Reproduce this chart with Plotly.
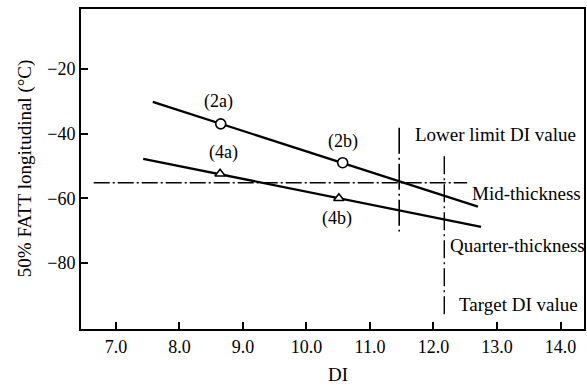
import plotly.graph_objects as go

# --- data ---
line2_di = [7.58, 12.70]
line2_fatt = [-30.2, -62.6]
pts2_di = [8.65, 10.57]
pts2_fatt = [-37.0, -49.0]

line4_di = [7.43, 12.75]
line4_fatt = [-47.8, -68.8]
pts4_di = [8.64, 10.51]
pts4_fatt = [-52.4, -60.0]

ref_fatt = -55.2
ref_di_span = [6.65, 12.53]
lower_limit_di = 11.46
lower_limit_span = [-38.2, -70.3]
target_di = 12.17
target_span = [-47.0, -96.5]

x_ticks = [7.0, 8.0, 9.0, 10.0, 11.0, 12.0, 13.0, 14.0]
y_ticks = [-20, -40, -60, -80]

point_labels = ["(2a)", "(2b)", "(4a)", "(4b)"]
point_label_di = [8.62, 10.57, 8.70, 10.48]
point_label_fatt = [-30.2, -42.5, -46.0, -66.3]

side_labels = ["Lower limit DI value", "Mid-thickness", "Quarter-thickness", "Target DI value"]
side_label_di = [11.68, 12.57, 12.23, 12.37]
side_label_fatt = [-40.4, -58.6, -74.6, -92.8]

FONT = "Liberation Serif"
fig = go.Figure()

fig.add_trace(go.Scatter(x=ref_di_span, y=[ref_fatt, ref_fatt], mode="lines",
                         line=dict(color="black", width=1.4, dash="16px,3px,2px,3px"),
                         showlegend=False, hoverinfo="skip"))
fig.add_trace(go.Scatter(x=[lower_limit_di, lower_limit_di], y=lower_limit_span, mode="lines",
                         line=dict(color="black", width=1.6, dash="26px,4px,2px,4px"),
                         showlegend=False, hoverinfo="skip"))
fig.add_trace(go.Scatter(x=[target_di, target_di], y=target_span, mode="lines",
                         line=dict(color="black", width=1.4, dash="18px,4px,2px,4px"),
                         showlegend=False, hoverinfo="skip"))

fig.add_trace(go.Scatter(x=line2_di, y=line2_fatt, mode="lines",
                         line=dict(color="black", width=2.3), showlegend=False))
fig.add_trace(go.Scatter(x=line4_di, y=line4_fatt, mode="lines",
                         line=dict(color="black", width=2.3), showlegend=False))
fig.add_trace(go.Scatter(x=pts2_di, y=pts2_fatt, mode="markers",
                         marker=dict(symbol="circle", size=10, color="white",
                                     line=dict(color="black", width=1.6)), showlegend=False))
fig.add_trace(go.Scatter(x=pts4_di, y=pts4_fatt, mode="markers",
                         marker=dict(symbol="triangle-up", size=9, color="white",
                                     line=dict(color="black", width=1.6)), showlegend=False))

lf = dict(family=FONT, size=18, color="black")
for t, x, y in zip(point_labels, point_label_di, point_label_fatt):
    fig.add_annotation(x=x, y=y, text=t, showarrow=False, xanchor="center",
                       yanchor="middle", font=lf)
sf = dict(family=FONT, size=19, color="black")
for t, x, y in zip(side_labels, side_label_di, side_label_fatt):
    fig.add_annotation(x=x, y=y, text=t, showarrow=False, xanchor="left",
                       yanchor="middle", font=sf)

# axis titles
fig.add_annotation(xref="paper", yref="paper", x=-0.111, y=0.5, text="50% FATT longitudinal (°C)",
                   textangle=-90, showarrow=False, xanchor="center", yanchor="middle",
                   font=dict(family=FONT, size=19, color="black"))
fig.add_annotation(xref="paper", yref="paper", x=(338 - 81) / 503, y=(329 - 374) / 320, text="DI",
                   showarrow=False, xanchor="center", yanchor="middle",
                   font=dict(family=FONT, size=19, color="black"))

fig.update_layout(
    width=587, height=385,
    margin=dict(l=81, r=3, t=9, b=56, autoexpand=False),
    plot_bgcolor="white", paper_bgcolor="white",
    font=dict(family=FONT, size=18, color="black"),
    xaxis=dict(range=[6.45, 14.37], tickvals=x_ticks, ticktext=[f"{v:.1f}" for v in x_ticks],
               ticks="inside", ticklen=7, tickwidth=1.5, tickcolor="black",
               showline=True, linecolor="black", linewidth=2, mirror=True,
               showgrid=False, zeroline=False, automargin=False,
               tickfont=dict(family=FONT, size=18)),
    yaxis=dict(range=[-100.4, -1.5], tickvals=y_ticks, ticktext=["−20", "−40", "−60", "−80"],
               ticks="inside", ticklen=7, tickwidth=1.5, tickcolor="black",
               showline=True, linecolor="black", linewidth=2, mirror=True,
               showgrid=False, zeroline=False, automargin=False,
               tickfont=dict(family=FONT, size=18)),
)

fig.write_html("out.html", config={"displayModeBar": False},
               post_script="document.body.style.margin='0';document.body.style.overflow='hidden';")
